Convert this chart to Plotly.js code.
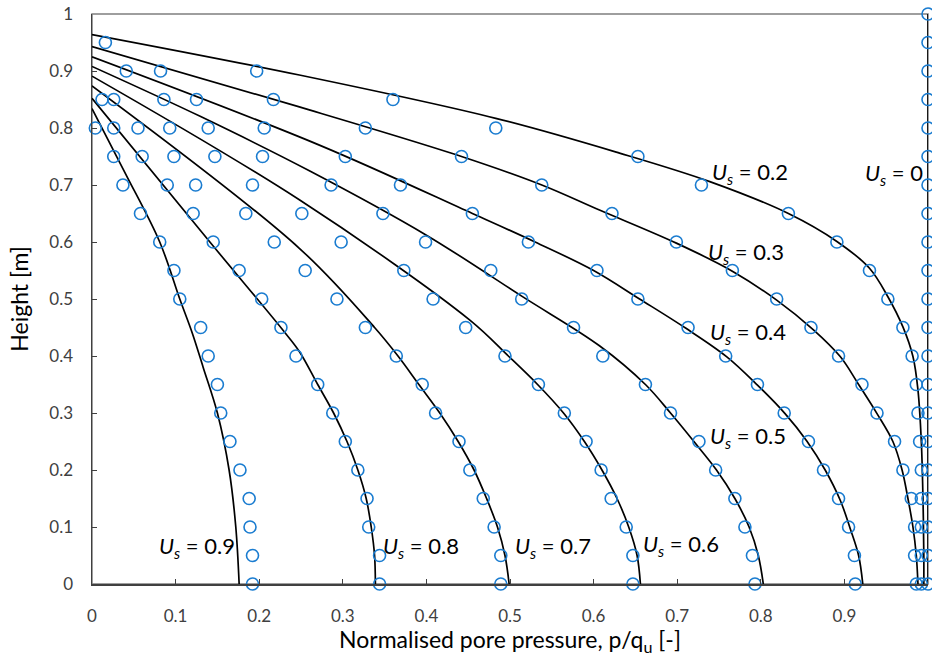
<!DOCTYPE html>
<html>
<head>
<meta charset="utf-8">
<script src="https://cdn.plot.ly/plotly-3.0.1.min.js"></script>
<style>html,body{margin:0;padding:0;background:#fff;}#chart{width:932px;height:656px;}</style>
</head>
<body>
<div id="chart"></div>
<script>
// ---- Numerical results (circles) ----
const c00y = [0,0.05,0.1,0.15,0.2,0.25,0.3,0.35,0.4,0.45,0.5,0.55,0.6,0.65,0.7,0.75,0.8,0.85,0.9,0.95,1.0];
const c00x = [1,1,1,1,1,1,1,1,1,1,1,1,1,1,1,1,1,1,1,1,1];

const c02y = [0.95,0.9,0.85,0.8,0.75,0.7,0.65,0.6,0.55,0.5,0.45,0.4,0.35,0.3,0.25,0.2,0.15,0.1,0.05,0];
const c02x = [0.016,0.197,0.360,0.483,0.653,0.729,0.833,0.891,0.930,0.952,0.970,0.981,0.986,0.988,0.990,0.992,0.992,0.992,0.992,0.992];

const c03y = [0.9,0.85,0.8,0.75,0.7,0.65,0.6,0.55,0.5,0.45,0.4,0.35,0.3,0.25,0.2,0.15,0.1,0.05,0];
const c03x = [0.082,0.217,0.327,0.442,0.538,0.622,0.699,0.766,0.819,0.860,0.893,0.921,0.939,0.960,0.970,0.980,0.984,0.984,0.986];

const c04y = [0.9,0.85,0.8,0.75,0.7,0.65,0.6,0.55,0.5,0.45,0.4,0.35,0.3,0.25,0.2,0.15,0.1,0.05,0];
const c04x = [0.041,0.125,0.206,0.303,0.369,0.455,0.522,0.604,0.653,0.713,0.758,0.796,0.828,0.857,0.875,0.893,0.905,0.912,0.913];

const c05y = [0.85,0.8,0.75,0.7,0.65,0.6,0.55,0.5,0.45,0.4,0.35,0.3,0.25,0.2,0.15,0.1,0.05,0];
const c05x = [0.086,0.139,0.204,0.286,0.348,0.399,0.477,0.514,0.576,0.611,0.662,0.692,0.726,0.746,0.769,0.781,0.790,0.793];

const c06y = [0.85,0.8,0.75,0.7,0.65,0.6,0.55,0.5,0.45,0.4,0.35,0.3,0.25,0.2,0.15,0.1,0.05,0];
const c06x = [0.026,0.093,0.147,0.192,0.251,0.298,0.373,0.408,0.447,0.494,0.534,0.565,0.591,0.609,0.621,0.639,0.647,0.647];

const c07y = [0.85,0.8,0.75,0.7,0.65,0.6,0.55,0.5,0.45,0.4,0.35,0.3,0.25,0.2,0.15,0.1,0.05,0];
const c07x = [0.012,0.055,0.098,0.124,0.184,0.218,0.255,0.293,0.327,0.364,0.395,0.411,0.439,0.452,0.468,0.481,0.489,0.489];

const c08y = [0.8,0.75,0.7,0.65,0.6,0.55,0.5,0.45,0.4,0.35,0.3,0.25,0.2,0.15,0.1,0.05,0];
const c08x = [0.026,0.060,0.090,0.121,0.145,0.176,0.203,0.226,0.244,0.270,0.288,0.303,0.318,0.329,0.331,0.344,0.344];

const c09y = [0.8,0.75,0.7,0.65,0.6,0.55,0.5,0.45,0.4,0.35,0.3,0.25,0.2,0.15,0.1,0.05,0];
const c09x = [0.004,0.026,0.037,0.058,0.081,0.098,0.105,0.130,0.139,0.150,0.154,0.165,0.177,0.188,0.189,0.192,0.192];

// ---- Analytical curves (lines) ----
const l00x = [1,1];
const l00y = [0,1];
const l02x = [0,0.248,0.483,0.631,0.739,0.833,0.891,0.930,0.952,0.970,0.982,0.988,0.992,0.994,0.995,0.995];
const l02y = [0.964,0.893,0.817,0.756,0.706,0.650,0.601,0.554,0.504,0.451,0.399,0.340,0.25,0.15,0.05,0];
const l03x = [0,0.248,0.442,0.538,0.607,0.699,0.767,0.819,0.863,0.895,0.917,0.939,0.958,0.969,0.976,0.982,0.986,0.988];
const l03y = [0.943,0.837,0.75,0.70,0.656,0.598,0.548,0.498,0.446,0.399,0.35,0.299,0.25,0.2,0.15,0.1,0.05,0];
const l04x = [0,0.272,0.455,0.530,0.600,0.655,0.710,0.759,0.796,0.829,0.855,0.877,0.895,0.907,0.917,0.922];
const l04y = [0.925,0.770,0.65,0.6,0.55,0.5,0.449,0.399,0.349,0.299,0.251,0.2,0.147,0.097,0.05,0];
const l05x = [0,0.13,0.26,0.40,0.514,0.607,0.662,0.692,0.720,0.747,0.769,0.786,0.797,0.803];
const l05y = [0.908,0.82,0.725,0.612,0.505,0.418,0.35,0.3,0.25,0.2,0.15,0.1,0.05,0];
const l06x = [0,0.248,0.452,0.498,0.533,0.564,0.589,0.610,0.628,0.642,0.652,0.656];
const l06y = [0.891,0.674,0.463,0.4,0.35,0.3,0.25,0.2,0.15,0.1,0.05,0];
const l07x = [0,0.248,0.338,0.366,0.391,0.416,0.438,0.457,0.472,0.485,0.494,0.499];
const l07y = [0.874,0.589,0.45,0.4,0.35,0.3,0.25,0.2,0.15,0.1,0.05,0];
const l08x = [0,0.141,0.228,0.248,0.270,0.289,0.305,0.318,0.328,0.334,0.338,0.339];
const l08y = [0.852,0.60,0.446,0.408,0.35,0.3,0.25,0.2,0.15,0.1,0.05,0];
const l09x = [0,0.04,0.081,0.105,0.120,0.133,0.150,0.164,0.172,0.176];
const l09y = [0.834,0.72,0.60,0.5,0.44,0.38,0.3,0.2,0.1,0];

// ---- Curve labels ----
const labText = ['0','0.2','0.3','0.4','0.5','0.6','0.7','0.8','0.9'];
const labX = [0.997,0.739,0.735,0.737,0.737,0.657,0.503,0.346,0.078];
const labY = [0.72,0.721,0.580,0.44,0.258,0.068,0.065,0.065,0.065];
const labAnchor = ['right','left','left','left','left','left','left','left','left'];

const FONT = 'Lato, "Open Sans", sans-serif';
const lineSets = [[l00x,l00y],[l02x,l02y],[l03x,l03y],[l04x,l04y],[l05x,l05y],[l06x,l06y],[l07x,l07y],[l08x,l08y],[l09x,l09y]];
const circSets = [[c00x,c00y],[c02x,c02y],[c03x,c03y],[c04x,c04y],[c05x,c05y],[c06x,c06y],[c07x,c07y],[c08x,c08y],[c09x,c09y]];

const traces = [];
lineSets.forEach(function(s, i){
  traces.push({x:s[0], y:s[1], mode:'lines', type:'scatter', showlegend:false, hoverinfo:'skip',
    line:{color:'#000000', width:1.7, shape: i===0 ? 'linear' : 'spline', smoothing:1}, cliponaxis:true});
});
circSets.forEach(function(s){
  traces.push({x:s[0], y:s[1], mode:'markers', type:'scatter', showlegend:false, cliponaxis:false,
    marker:{symbol:'circle-open', size:12, color:'#1a7cd0', line:{width:1.6, color:'#1a7cd0'}}});
});

const annotations = labText.map(function(t, i){
  return {x:labX[i], y:labY[i], xref:'x', yref:'y', xanchor:labAnchor[i], yanchor:'middle', showarrow:false,
    text:'<i>U<sub>s</sub></i> = ' + t, font:{family:FONT, size:22, color:'#000000'}};
});

const axisCommon = {range:[0,1], dtick:0.1, tick0:0, ticks:'inside', ticklen:5, tickwidth:1, tickcolor:'#404040',
  showgrid:false, zeroline:false, showline:true, linecolor:'#404040', linewidth:1.5,
  tickfont:{family:FONT, size:17, color:'#404040'}, fixedrange:true};

const layout = {
  width:932, height:656,
  margin:{l:92, r:4, t:14, b:72},
  paper_bgcolor:'#ffffff', plot_bgcolor:'#ffffff',
  font:{family:FONT},
  xaxis:Object.assign({}, axisCommon, {ticklabelstandoff:16,
    title:{text:'Normalised pore pressure, p/q<sub>u</sub> [-]', font:{family:FONT, size:23, color:'#000000'}, standoff:0}}),
  yaxis:Object.assign({}, axisCommon, {ticklabelstandoff:14,
    title:{text:'Height [m]', font:{family:FONT, size:23, color:'#000000'}, standoff:14}}),
  shapes:[{type:'rect', xref:'paper', yref:'paper', x0:0, x1:1, y0:0, y1:1, layer:'below',
    line:{color:'#7f7f7f', width:1.5}}],
  annotations:annotations
};

Plotly.newPlot('chart', traces, layout, {displayModeBar:false, staticPlot:true});
</script>
</body>
</html>
